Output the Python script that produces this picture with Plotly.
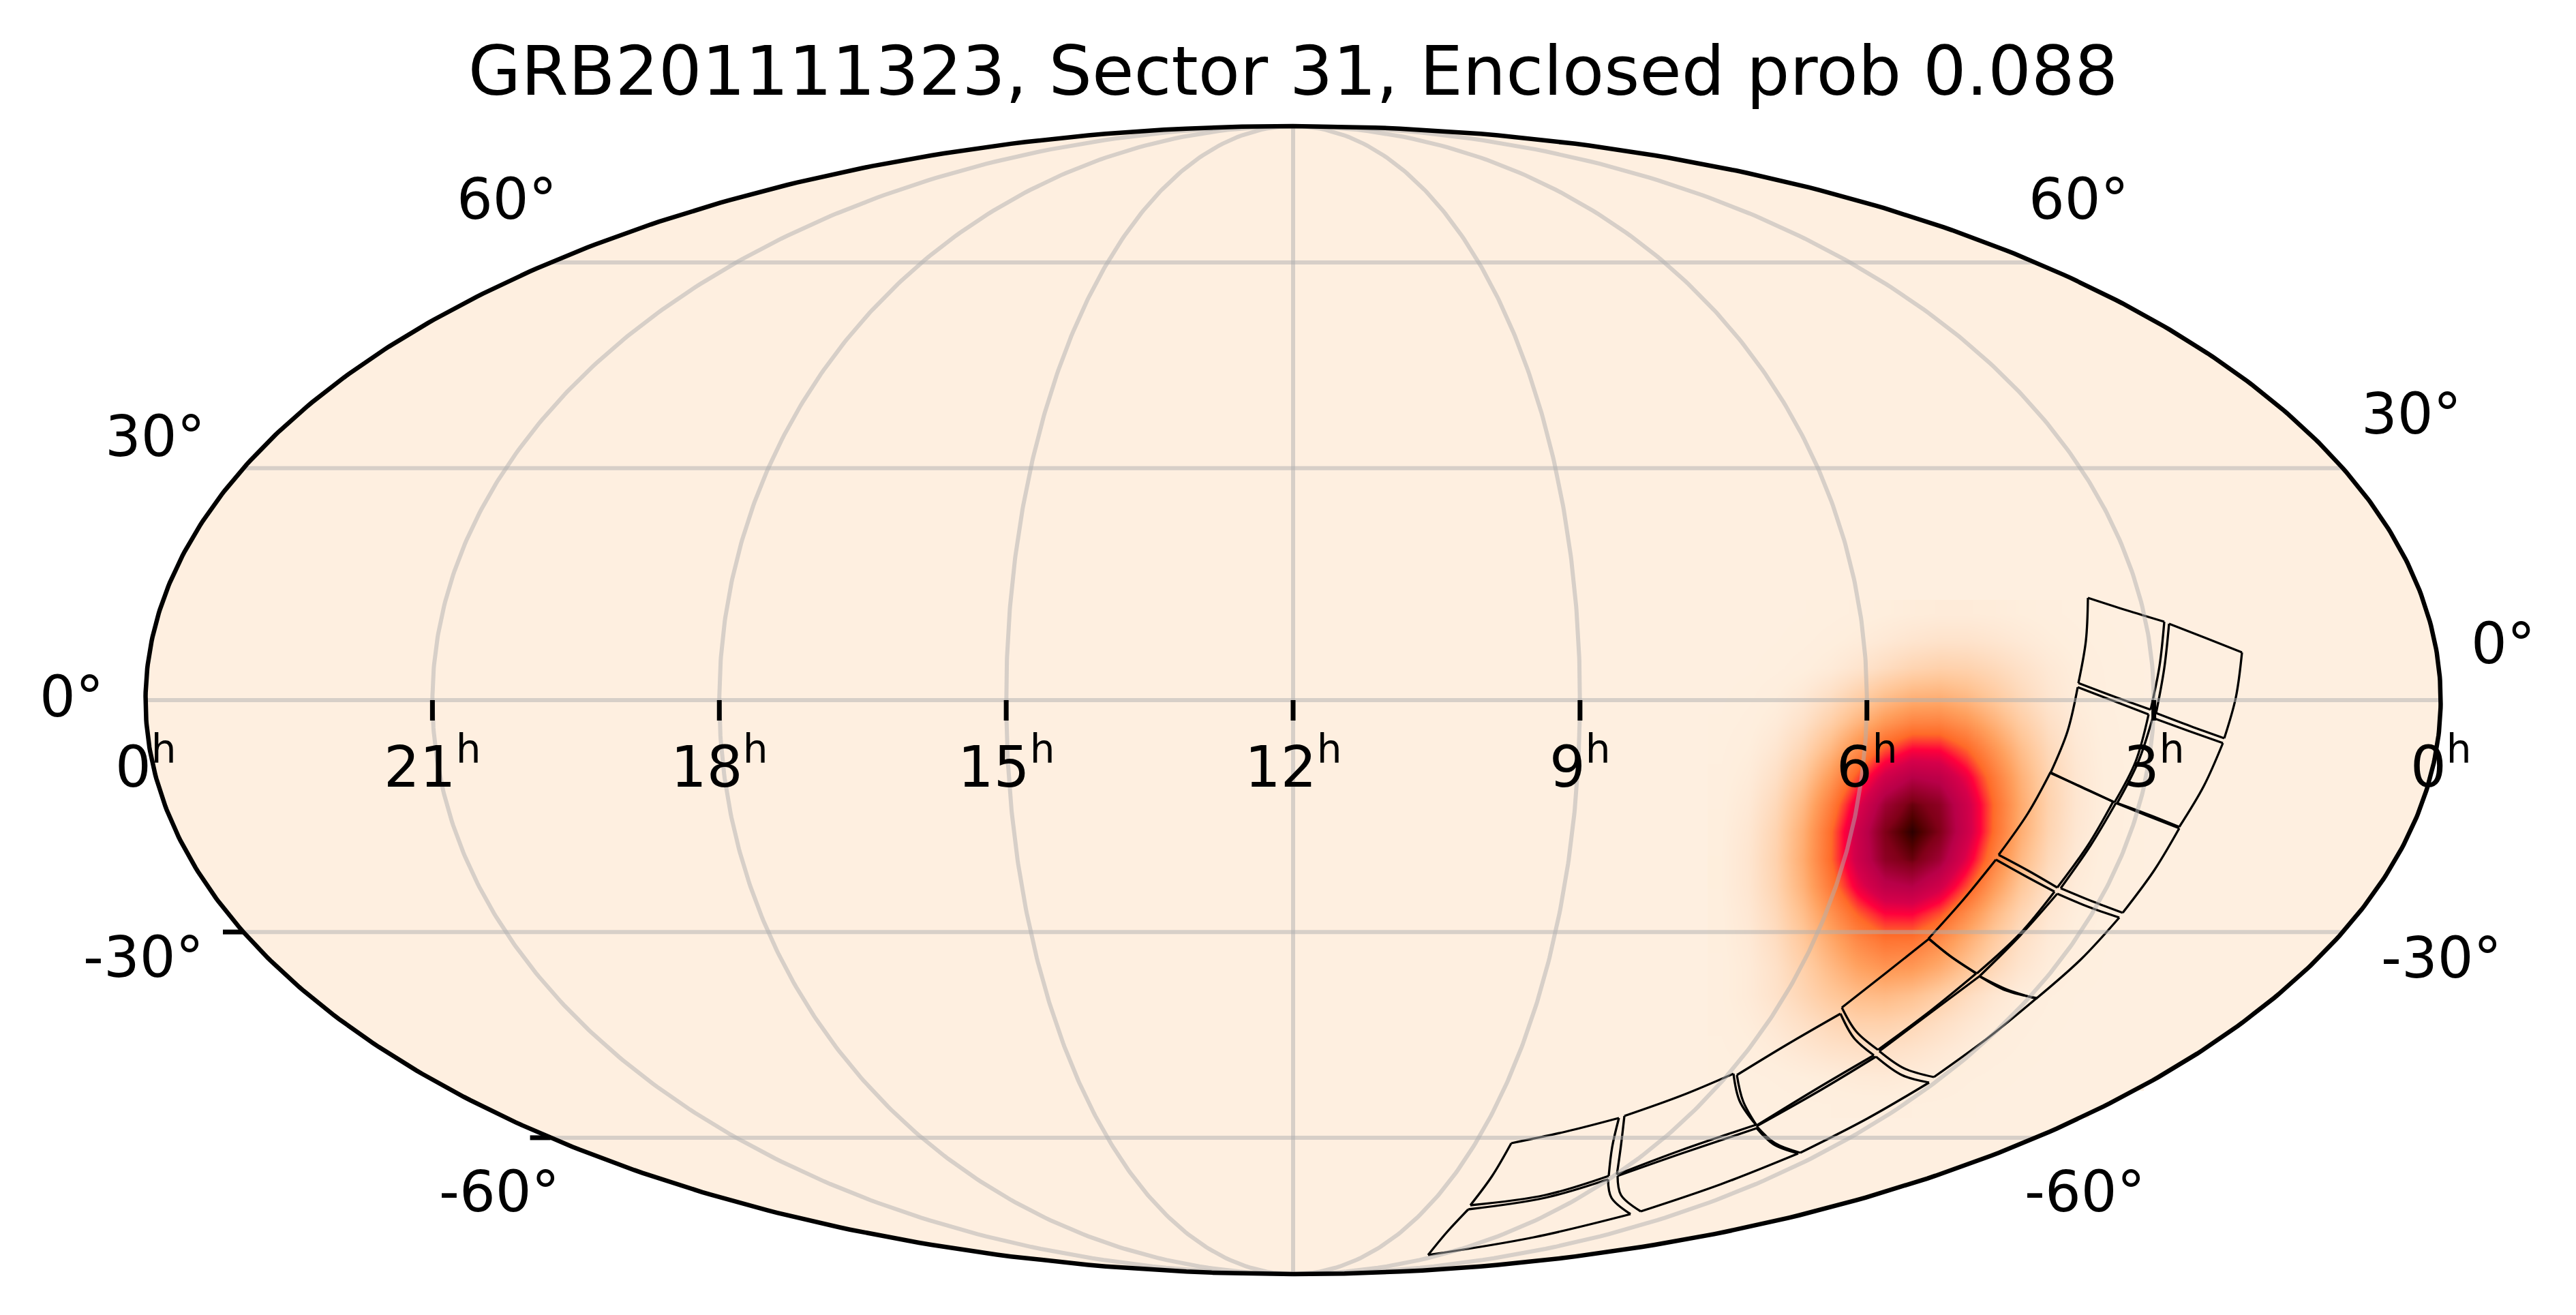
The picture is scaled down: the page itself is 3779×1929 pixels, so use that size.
#!/usr/local/bin/python3
import numpy as np
import plotly.graph_objects as go

title = "GRB201111323, Sector 31, Enclosed prob 0.088"

# sky grid
ra_hours = [21, 18, 15, 12, 9, 6, 3]
dec_lines = [60, 30, 0, -30, -60]
dec_ticks = [-30, -60]
ra_labels = ["0", "21", "18", "15", "12", "9", "6", "3", "0"]
ra_label_hours = [24, 21, 18, 15, 12, 9, 6, 3, 0]
dec_labels = ["60°", "30°", "0°", "-30°", "-60°"]

# probability map (plot units, top row first)
blob_x = [628, 668, 708, 748, 788, 828, 868, 908, 948, 988, 1028, 1068, 1108, 1148, 1188, 1228]
blob_y = [127, 87, 47, 7, -33, -73, -113, -153, -193, -233, -273, -313, -353, -393, -433, -473, -513, -553, -593]
blob_z = [
    [0, .0003, .001, .003, .006, .012, .020, .028, .033, .033, .029, .021, .013, .007, .003, .001],
    [.0003, .001, .003, .007, .016, .030, .047, .064, .074, .073, .061, .044, .027, .014, .006, .002],
    [.001, .002, .007, .017, .036, .066, .101, .133, .149, .142, .115, .080, .047, .024, .010, .004],
    [.002, .007, .020, .046, .089, .149, .212, .256, .265, .233, .175, .112, .061, .028, .011, .004],
    [.004, .014, .036, .081, .156, .254, .353, .418, .422, .363, .266, .166, .089, .040, .016, .005],
    [.008, .023, .059, .130, .244, .389, .529, .612, .605, .509, .365, .223, .116, .051, .019, .006],
    [.012, .034, .087, .187, .342, .534, .710, .804, .776, .639, .448, .267, .136, .059, .022, .007],
    [.016, .046, .115, .241, .431, .658, .855, .947, .894, .719, .493, .288, .143, .061, .022, .007],
    [.020, .056, .135, .278, .487, .726, .923, 1.0, .923, .726, .487, .278, .135, .056, .020, .006],
    [.022, .061, .143, .288, .493, .719, .894, .947, .855, .658, .431, .241, .115, .046, .016, .005],
    [.022, .059, .136, .267, .448, .639, .776, .804, .710, .534, .342, .187, .087, .034, .012, .003],
    [.019, .051, .116, .223, .365, .509, .605, .612, .529, .389, .244, .130, .059, .023, .008, .002],
    [.018, .044, .098, .183, .293, .399, .464, .460, .388, .279, .172, .089, .040, .015, .004, .001],
    [.015, .038, .082, .151, .236, .315, .358, .346, .286, .201, .120, .062, .027, .009, .003, .001],
    [.016, .038, .075, .128, .184, .227, .238, .213, .162, .106, .058, .027, .011, .003, .002, 0],
    [.012, .028, .054, .088, .122, .146, .148, .128, .094, .060, .032, .014, .006, .002, 0, 0],
    [.008, .018, .034, .055, .075, .086, .086, .073, .052, .031, .016, .008, .003, 0, 0, 0],
    [.003, .006, .012, .021, .030, .039, .042, .033, .024, .012, .006, .003, 0, 0, 0, 0],
    [.001, .002, .004, .007, .010, .012, .013, .010, .007, .004, .002, .001, 0, 0, None, None],
]

# CCD footprints, 8 points around each: corner, edge middle, corner, ...
ccd_x = [
    [1166, 1222, 1278, 1271, 1258, 1205, 1152, 1163],
    [1285, 1339, 1392, 1383, 1366, 1316, 1266, 1278],
    [1151, 1203, 1255, 1236, 1205, 1158, 1111, 1136],
    [1261, 1313, 1364, 1336, 1300, 1255, 1209, 1240],
    [1111, 1157, 1203, 1166, 1121, 1078, 1035, 1078],
    [1207, 1254, 1300, 1263, 1217, 1172, 1126, 1170],
    [1031, 1074, 1117, 1066, 1003, 965, 932, 983],
    [1121, 1166, 1212, 1156, 1090, 1046, 1007, 1066],
    [933, 963, 1002, 936, 858, 826, 805, 870],
    [1007, 1046, 1091, 1020, 940, 896, 860, 936],
    [803, 823, 852, 770, 680, 660, 651, 725],
    [855, 893, 933, 842, 744, 707, 680, 774],
    [646, 655, 679, 570, 475, 481, 486, 570],
    [680, 704, 741, 628, 510, 481, 476, 570],
    [478, 468, 463, 370, 260, 292, 320, 400],
    [462, 467, 495, 353, 198, 226, 257, 370],
]
ccd_y = [
    [150, 132, 115, 50, -14, 5, 25, 87],
    [112, 91, 70, 4, -56, -38, -19, 47],
    [19, -1, -21, -90, -150, -128, -107, -46],
    [-26, -45, -63, -126, -186, -168, -151, -90],
    [-106, -128, -149, -213, -275, -250, -227, -166],
    [-151, -170, -188, -250, -312, -295, -276, -213],
    [-234, -258, -281, -343, -401, -376, -350, -293],
    [-284, -303, -319, -380, -438, -424, -405, -346],
    [-350, -375, -401, -455, -513, -486, -451, -400],
    [-405, -426, -437, -495, -553, -540, -515, -458],
    [-460, -496, -521, -569, -624, -588, -550, -505],
    [-523, -550, -561, -614, -664, -650, -625, -572],
    [-548, -588, -623, -660, -696, -653, -610, -580],
    [-628, -651, -665, -710, -750, -726, -698, -665],
    [-613, -656, -698, -726, -741, -698, -650, -633],
    [-703, -730, -754, -788, -814, -780, -747, -730],
]

# semi axes of the map in plot units
A = 1683.5
B = 842.0


def mollweide(ra_h, dec):
    ra_h = np.asarray(ra_h, dtype=float)
    phi = np.radians(np.asarray(dec, dtype=float))
    theta = np.clip(phi, -1.5707, 1.5707)
    for _ in range(60):
        d = 2 * theta + np.sin(2 * theta) - np.pi * np.sin(phi)
        theta = theta - d / (2 + 2 * np.cos(2 * theta) + 1e-9)
    return A * (12 - ra_h) / 12 * np.cos(theta), B * np.sin(theta)


colorscale = [
    [0.0, "#feefe0"], [0.02, "#feeedd"], [0.044, "#fee9d6"], [0.089, "#fedfc5"], [0.198, "#ffc596"],
    [0.325, "#ffa05e"], [0.498, "#ff6a28"], [0.558, "#ff3232"], [0.607, "#ff003c"],
    [0.685, "#d6004a"], [0.80, "#b80048"], [0.923, "#800018"], [0.97, "#500000"], [1.0, "#2c0000"],
]
grid_color = "rgba(176,176,176,0.5)"

fig = go.Figure()

fig.add_trace(go.Heatmap(
    x=blob_x, y=blob_y, z=blob_z, zmin=0, zmax=1, zsmooth="best",
    colorscale=colorscale, showscale=False, hoverinfo="skip",
))

for xs, ys in zip(ccd_x, ccd_y):
    # each side gets its own spline so the corners stay sharp
    ex, ey = [], []
    for i in (0, 2, 4, 6):
        idx = [i, i + 1, (i + 2) % 8]
        ex += [xs[j] for j in idx] + [None]
        ey += [ys[j] for j in idx] + [None]
    fig.add_trace(go.Scatter(
        x=ex, y=ey, mode="lines", line=dict(color="black", width=3.3, shape="spline", smoothing=1.0),
        hoverinfo="skip", showlegend=False,
    ))

curve = np.linspace(-90, 90, 361)
for h in ra_hours:
    mx, my = mollweide(np.full_like(curve, h), curve)
    fig.add_trace(go.Scatter(x=mx, y=my, mode="lines", line=dict(color=grid_color, width=6),
                             hoverinfo="skip", showlegend=False))
for d in dec_lines:
    px_, py_ = mollweide([24, 0], [d, d])
    fig.add_trace(go.Scatter(x=px_, y=py_, mode="lines", line=dict(color=grid_color, width=6),
                             hoverinfo="skip", showlegend=False))

# outline
lx, ly = mollweide(np.full_like(curve, 24), curve)
rx, ry = mollweide(np.full_like(curve, 0), curve[::-1])
fig.add_trace(go.Scatter(x=np.r_[lx, rx, lx[0]], y=np.r_[ly, ry, ly[0]], mode="lines",
                         line=dict(color="black", width=6.5), hoverinfo="skip", showlegend=False))

# ticks
for h in ra_hours:
    tx, ty = mollweide([h], [0])
    fig.add_trace(go.Scatter(x=[tx[0], tx[0]], y=[0, -30], mode="lines", line=dict(color="black", width=7),
                             hoverinfo="skip", showlegend=False))
for d in dec_ticks:
    tx, ty = mollweide([24], [d])
    fig.add_trace(go.Scatter(x=[tx[0], tx[0] - 30], y=[ty[0], ty[0]], mode="lines", line=dict(color="black", width=7),
                             hoverinfo="skip", showlegend=False))

tick_font = dict(family="DejaVu Sans", size=83, color="black")
for lab, h in zip(ra_labels, ra_label_hours):
    tx, _ = mollweide([h], [0])
    fig.add_annotation(x=tx[0], y=-92, text=lab + "<sup>h</sup>", showarrow=False, font=tick_font,
                       xanchor="center", yanchor="middle")

left_x = [-1154, -1670, -1792, -1687, -1165]
left_y = [735, 387, 5, -377, -721]
right_x = [1152, 1640, 1775, 1684, 1161]
right_y = [735, 420, 83, -378, -721]
for lab, x0, y0, x1, y1 in zip(dec_labels, left_x, left_y, right_x, right_y):
    fig.add_annotation(x=x0, y=y0, text=lab, showarrow=False, font=tick_font, xanchor="center", yanchor="middle")
    fig.add_annotation(x=x1, y=y1, text=lab, showarrow=False, font=tick_font, xanchor="center", yanchor="middle")

fig.update_layout(
    width=3779,
    height=1929,
    margin=dict(l=0, r=0, t=0, b=0),
    paper_bgcolor="white",
    plot_bgcolor="white",
    showlegend=False,
    title=dict(text=title, x=1897 / 3779, xref="paper", xanchor="center", y=1 - 104 / 1929, yref="container",
               yanchor="middle", font=dict(family="DejaVu Sans", size=100, color="black")),
    xaxis=dict(range=[-1897, 1882], visible=False, fixedrange=True),
    yaxis=dict(range=[-902, 1027], visible=False, fixedrange=True),
    shapes=[dict(type="circle", xref="x", yref="y", x0=-A, x1=A, y0=-B, y1=B, layer="below",
                 fillcolor="#feefe0", line=dict(width=0))],
)

fig.write_html("out.html", config={"displayModeBar": False}, post_script="document.body.style.margin='0';")
